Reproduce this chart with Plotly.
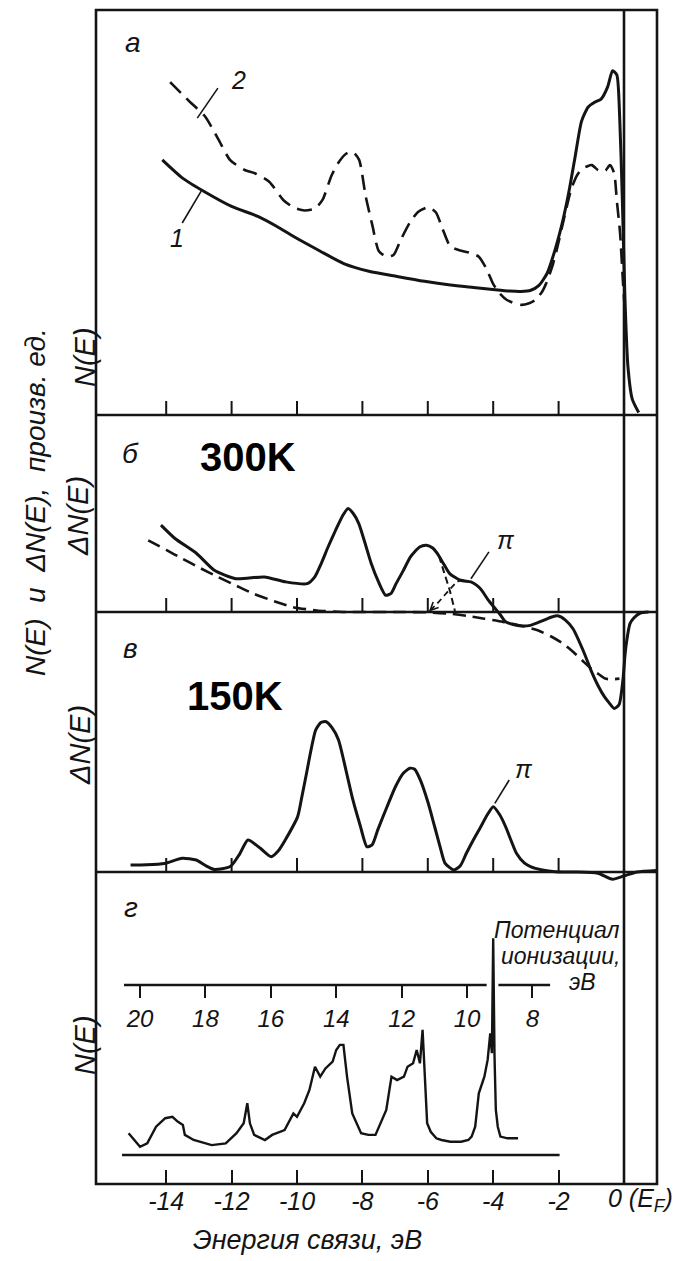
import math
import plotly.graph_objects as go

# ---------------- data (binding energy in eV, intensities in arbitrary units) ----------------
# panel а: curve 1 (solid) and curve 2 (dashed)
a1_E = [-14.12, -13.5, -12.8, -12.0, -11.18, -10.6, -10.09, -9.3, -8.57, -7.8, -6.94, -6.1,
        -5.31, -4.6, -4.01, -3.5, -3.15, -2.85, -2.6, -2.35, -2.1, -1.9, -1.7, -1.5, -1.3,
        -1.1, -0.9, -0.7, -0.5, -0.35, -0.22, -0.13, -0.05, 0.03, 0.12, 0.25, 0.45]
a1_N = [6.30, 5.85, 5.50, 5.15, 4.90, 4.65, 4.40, 4.05, 3.74, 3.55, 3.42, 3.30,
        3.21, 3.15, 3.10, 3.06, 3.05, 3.08, 3.20, 3.50, 4.10, 4.70, 5.45, 6.35, 7.25,
        7.60, 7.72, 7.80, 8.10, 8.50, 8.40, 7.30, 5.30, 2.85, 1.20, 0.40, 0.06]

a2_E = [-13.88, -13.3, -12.81, -12.4, -12.05, -11.6, -11.29, -10.85, -10.42, -10.1, -9.77,
        -9.45, -9.22, -8.95, -8.75, -8.5, -8.3, -8.1, -7.9, -7.7, -7.5, -7.27, -7.05, -6.83,
        -6.55, -6.29, -5.97, -5.75, -5.55, -5.31, -5.0, -4.7, -4.44, -4.2, -4.01, -3.8, -3.58,
        -3.35, -3.14, -2.9, -2.71, -2.5, -2.38, -2.2, -2.06, -1.85, -1.62, -1.45, -1.3, -1.1,
        -0.98, -0.8, -0.67, -0.55, -0.43, -0.3, -0.22, -0.12, -0.03, 0.05]
a2_N = [8.22, 7.75, 7.37, 6.80, 6.30, 6.05, 5.97, 5.76, 5.31, 5.12, 5.05,
        5.10, 5.31, 5.90, 6.21, 6.45, 6.50, 6.30, 5.40, 4.70, 4.05, 3.91, 3.95, 4.32,
        4.75, 5.02, 5.13, 5.00, 4.60, 4.16, 4.06, 4.00, 3.91, 3.60, 3.25, 3.00, 2.84,
        2.76, 2.72, 2.76, 2.84, 3.05, 3.25, 3.65, 4.07, 4.80, 5.56, 5.90, 6.07, 6.15,
        6.17, 6.05, 6.00, 6.05, 6.17, 5.97, 5.30, 4.49, 3.26, 2.30]

# panel б: difference spectrum at 300 K (solid) and its background (dashed)
b_E = [-14.16, -13.73, -13.07, -12.53, -11.87, -11.0, -10.35, -9.69, -9.45, -9.26, -9.05,
       -8.82, -8.6, -8.44, -8.28, -8.11, -7.92, -7.73, -7.5, -7.29, -7.12, -6.97, -6.75,
       -6.53, -6.25, -6.04, -5.85, -5.71, -5.5, -5.33, -5.0, -4.68, -4.5, -4.35, -4.15,
       -3.95, -3.8, -3.62, -3.2, -2.86, -2.5, -2.21, -2.0, -1.8, -1.56, -1.23, -1.0, -0.8,
       -0.6, -0.46, -0.3, -0.15, -0.03, 0.03, 0.08, 0.18, 0.3, 0.5, 0.75]
b_dN = [4.41, 3.73, 2.97, 2.12, 1.69, 1.78, 1.53, 1.44, 1.80, 2.46, 3.30,
        4.15, 4.90, 5.25, 5.00, 4.49, 3.50, 2.46, 1.50, 0.85, 0.95, 1.44, 2.10,
        2.80, 3.30, 3.39, 3.25, 2.97, 2.40, 1.95, 1.61, 1.53, 1.35, 1.10, 0.60,
        0.20, -0.10, -0.50, -0.70, -0.68, -0.45, -0.25, -0.20, -0.40, -0.85, -2.03, -3.00, -3.72,
        -4.30, -4.60, -4.90, -4.70, -3.40, -2.20, -1.50, -0.60, -0.30, -0.05, 0.0]

b_bg_E = [-14.55, -14.0, -13.51, -12.95, -12.42, -11.85, -11.33, -10.7, -10.13, -9.4, -8.6,
          -7.8, -6.97, -5.98, -5.36, -4.8, -4.27, -3.7, -3.18, -2.64, -2.2, -1.85, -1.55,
          -1.25, -1.0, -0.78, -0.58, -0.35, -0.14]
b_bg_dN = [3.64, 3.15, 2.71, 2.22, 1.78, 1.33, 0.93, 0.55, 0.25, 0.08, 0.0,
           0.0, 0.0, -0.02, -0.08, -0.20, -0.34, -0.50, -0.68, -0.93, -1.27, -1.62, -2.03,
           -2.50, -2.88, -3.15, -3.38, -3.42, -3.38]

# decomposition of the shoulder: flank of the -6 eV band and the π band
b_flank_E = [-5.66, -5.5, -5.33, -5.17]
b_flank_dN = [2.85, 2.00, 1.10, 0.05]
b_pi_E = [-5.93, -5.7, -5.49, -5.3, -5.11, -4.95]
b_pi_dN = [0.08, 0.45, 0.85, 1.20, 1.53, 1.62]

# panel в: difference spectrum at 150 K
c_E = [-15.09, -14.6, -14.05, -13.51, -13.08, -12.8, -12.53, -12.04, -11.75, -11.5, -11.12,
       -10.79, -10.55, -10.36, -9.98, -9.85, -9.71, -9.57, -9.43, -9.27, -9.11, -8.93, -8.73,
       -8.5, -8.29, -8.07, -7.86, -7.7, -7.53, -7.25, -6.99, -6.75, -6.55, -6.4, -6.23, -6.0,
       -5.79, -5.62, -5.47, -5.2, -5.0, -4.82, -4.6, -4.38, -4.18, -4.0, -3.8, -3.62, -3.45,
       -3.29, -3.05, -2.86, -2.5, -2.1, -1.5, -0.8, -0.35, 0.0, 0.4, 1.0]
c_dN = [0.27, 0.28, 0.33, 0.53, 0.46, 0.25, 0.10, 0.21, 0.70, 1.23, 0.91,
        0.59, 0.85, 1.23, 2.13, 2.90, 3.79, 4.70, 5.46, 5.75, 5.78, 5.55, 5.08,
        3.90, 2.77, 1.80, 0.97, 1.05, 1.62, 2.50, 3.28, 3.80, 3.99, 3.95, 3.54, 2.70,
        1.74, 0.95, 0.33, 0.08, 0.25, 0.72, 1.25, 1.74, 2.20, 2.51, 2.20, 1.74, 1.20,
        0.72, 0.35, 0.21, 0.08, 0.01, 0.0, -0.05, -0.28, -0.15, 0.0, 0.06]

# panel г: gas-phase spectrum against ionization potential (eV)
g_I = [20.35, 20.0, 19.78, 19.51, 19.23, 19.01, 18.85, 18.69, 18.63, 18.36, 17.81, 17.38,
       17.05, 16.83, 16.72, 16.64, 16.51, 16.18, 15.96, 15.58, 15.31, 15.2, 14.98, 14.82,
       14.65, 14.49, 14.33, 14.11, 14.0, 13.89, 13.78, 13.67, 13.51, 13.24, 13.02, 12.8,
       12.47, 12.31, 12.14, 11.93, 11.82, 11.65, 11.54, 11.44, 11.36, 11.29, 11.22, 11.11,
       10.94, 10.78, 10.51, 10.18, 9.96, 9.86, 9.75, 9.64, 9.47, 9.37, 9.29, 9.24, 9.20,
       9.16, 9.12, 9.06, 8.98, 8.76, 8.44]
g_N = [0.77, 0.29, 0.41, 1.00, 1.30, 1.35, 1.18, 1.06, 0.71, 0.53, 0.35, 0.41,
       0.77, 1.12, 1.83, 1.12, 0.71, 0.53, 0.71, 0.88, 1.47, 1.35, 1.83, 2.30,
       3.12, 2.77, 3.06, 3.30, 3.71, 3.89, 3.89, 2.77, 1.47, 0.77, 0.71, 0.71,
       1.59, 2.77, 2.65, 2.77, 3.12, 3.24, 3.71, 3.24, 4.42, 2.89, 1.12, 0.82,
       0.59, 0.53, 0.47, 0.47, 0.53, 0.65, 1.00, 2.18, 2.77, 3.36, 4.30, 3.60, 7.66,
       3.50, 1.60, 1.00, 0.65, 0.59, 0.59]

energy_ticks = [-14, -12, -10, -8, -6, -4, -2]
energy_ticktext = ["-14", "-12", "-10", "-8", "-6", "-4", "-2"]
ion_ticks = [20, 18, 16, 14, 12, 10, 8]
ion_ticktext = ["20", "18", "16", "14", "12", "10", "8"]
ION_SHIFT = 5.2          # binding energy = ION_SHIFT - ionization potential

# ---------------- geometry ----------------
W, H = 694, 1261
L, R, T, B = 96, 657, 10, 1184          # plotting box in pixels
E0_PX, PX_PER_EV = 624, 32.7
PANEL_EDGES = [10, 415, 612, 872, 1184]  # pixel rows of the panel borders
B_UNIT = 19.7                            # pixels per unit of the б scale


def py(p):
    return (B - p) / (B - T)


def pxp(p):
    return (p - L) / (R - L)


x_range = [(L - E0_PX) / PX_PER_EV, (R - E0_PX) / PX_PER_EV]
ion_range = [ION_SHIFT - x_range[0], ION_SHIFT - x_range[1]]

INK = "#141414"
FONT = "Liberation Sans"


def ifont(size, **kw):
    return dict(family=FONT, size=size, color=INK, style="italic", **kw)


fig = go.Figure()

solid = dict(color=INK, width=3.0)
fig.add_trace(go.Scatter(x=a1_E, y=a1_N, mode="lines", xaxis="x", yaxis="y",
                         line=dict(**solid, shape="spline", smoothing=0.6)))
fig.add_trace(go.Scatter(x=a2_E, y=a2_N, mode="lines", xaxis="x", yaxis="y",
                         line=dict(color=INK, width=2.6, dash="15px,8px", shape="spline", smoothing=0.6)))

fig.add_trace(go.Scatter(x=b_E, y=b_dN, mode="lines", xaxis="x", yaxis="y2",
                         line=dict(**solid, shape="spline", smoothing=0.6)))
fig.add_trace(go.Scatter(x=b_bg_E, y=b_bg_dN, mode="lines", xaxis="x", yaxis="y2",
                         line=dict(color=INK, width=2.6, dash="13px,7px", shape="spline", smoothing=0.6)))
fig.add_trace(go.Scatter(x=b_flank_E, y=b_flank_dN, mode="lines", xaxis="x", yaxis="y2",
                         line=dict(color=INK, width=2.0, dash="7px,4px", shape="spline", smoothing=0.6)))
fig.add_trace(go.Scatter(x=b_pi_E, y=b_pi_dN, mode="lines", xaxis="x", yaxis="y2",
                         line=dict(color=INK, width=1.8, dash="6px,4px", shape="spline", smoothing=0.6)))

fig.add_trace(go.Scatter(x=c_E, y=c_dN, mode="lines", xaxis="x", yaxis="y3",
                         line=dict(**solid, shape="spline", smoothing=0.6)))

fig.add_trace(go.Scatter(x=g_I, y=g_N, mode="lines", xaxis="x2", yaxis="y4",
                         line=dict(color=INK, width=2.4)))

# ---------------- frame, separators, ticks ----------------
shapes = [dict(type="rect", xref="paper", yref="paper", x0=0, x1=1, y0=0, y1=1,
               line=dict(color=INK, width=2.6))]
for edge in PANEL_EDGES[1:-1]:
    shapes.append(dict(type="line", xref="paper", yref="paper", x0=0, x1=1,
                       y0=py(edge), y1=py(edge), line=dict(color=INK, width=2.6)))
shapes.append(dict(type="line", xref="x", yref="paper", x0=0, x1=0, y0=0, y1=1,
                   line=dict(color=INK, width=2.6)))
for edge in PANEL_EDGES[1:-1]:
    for t in energy_ticks:
        shapes.append(dict(type="line", xref="x", yref="paper", x0=t, x1=t,
                           y0=py(edge), y1=py(edge - 14), line=dict(color=INK, width=2)))

# baseline of the gas-phase spectrum
shapes.append(dict(type="line", xref="x", yref="y4", x0=-15.35, x1=-1.97, y0=0, y1=0,
                   line=dict(color=INK, width=2.6)))
# ionization-potential scale line, interrupted where the first band crosses it
for x0, x1 in [(20.49, 9.40), (9.04, 7.46)]:
    shapes.append(dict(type="line", xref="x2", yref="paper", x0=x0, x1=x1,
                       y0=py(985), y1=py(985), line=dict(color=INK, width=2.4)))

# leader lines for curve labels
leaders = [("y", -13.05, 7.33, -12.42, 8.07),
           ("y", -13.51, 4.74, -12.93, 5.53),
           ("y2", -4.68, 1.69, -4.13, 3.05),
           ("y3", -3.95, 2.64, -3.51, 3.54)]
for yr, x0, y0, x1, y1 in leaders:
    shapes.append(dict(type="line", xref="x", yref=yr, x0=x0, y0=y0, x1=x1, y1=y1,
                       line=dict(color=INK, width=1.6)))

# arrowhead at the foot of the π band (wings built in pixel space, mapped back to data)
tip_E, tip_v = b_pi_E[0], b_pi_dN[0]
dx_px = (b_pi_E[1] - tip_E) * PX_PER_EV
dy_px = (b_pi_dN[1] - tip_v) * B_UNIT
ang = math.atan2(dy_px, dx_px)
wing = []
for da in (-0.45, 0.45):
    wing.append((tip_E + 9 * math.cos(ang + da) / PX_PER_EV,
                 tip_v + 9 * math.sin(ang + da) / B_UNIT))
shapes.append(dict(type="path", xref="x", yref="y2",
                   path=f"M {wing[0][0]},{wing[0][1]} L {tip_E},{tip_v} L {wing[1][0]},{wing[1][1]}",
                   line=dict(color=INK, width=1.6)))

# ---------------- text ----------------
ann = []


def text_px(txt, x, y, font, xanchor="center", **kw):
    ann.append(dict(text=txt, xref="paper", yref="paper", x=pxp(x), y=py(y),
                    xanchor=xanchor, yanchor="middle", showarrow=False, font=font, **kw))


for letter, (x, y) in zip(["а", "б", "в", "г"], [(133, 42), (130, 453), (130, 648), (131, 907)]):
    text_px(letter, x, y, ifont(28))

bold = dict(family=FONT, size=40, color="#000000", weight="bold")
text_px("300K", 248, 457, bold)
text_px("150K", 235, 696, bold)

text_px("N(E)  и  ΔN(E),  произв. ед.", 35, 502, ifont(28), textangle=-90)
text_px("N(E)", 85, 357, ifont(29), textangle=-90)
text_px("ΔN(E)", 78, 516, ifont(29), textangle=-90)
text_px("ΔN(E)", 80, 745, ifont(29), textangle=-90)
text_px("N(E)", 85, 1045, ifont(29), textangle=-90)

text_px("0 (E<sub>F</sub>)", 606, 1200, ifont(25), xanchor="left")
text_px("Энергия связи, эВ", 307, 1240, ifont(27))

text_px("Потенциал", 622, 930, ifont(23), xanchor="right")
text_px("ионизации,", 622, 956, ifont(23), xanchor="right")
text_px("эВ", 582, 982, ifont(23))

for txt, yr, x, y in [("2", "y", -11.79, 8.27), ("1", "y", -13.66, 4.37),
                      ("π", "y2", -3.62, 3.64), ("π", "y3", -3.05, 3.96)]:
    ann.append(dict(text=txt, xref="x", yref=yr, x=x, y=y, xanchor="center", yanchor="middle",
                    showarrow=False, font=ifont(25)))

# ---------------- axes ----------------
hidden_y = dict(visible=False, fixedrange=True)
fig.update_layout(
    width=W, height=H,
    margin=dict(l=L, r=W - R, t=T, b=H - B, pad=0),
    paper_bgcolor="white", plot_bgcolor="rgba(0,0,0,0)",
    showlegend=False,
    xaxis=dict(domain=[0, 1], range=x_range, anchor="free", position=0,
               ticks="inside", ticklen=14, tickwidth=2, tickcolor=INK,
               tickvals=energy_ticks, ticktext=energy_ticktext, tickfont=ifont(25),
               showline=False, showgrid=False, zeroline=False),
    xaxis2=dict(domain=[0, 1], range=ion_range, anchor="free", position=py(985),
                side="bottom", ticks="outside", ticklen=12, tickwidth=2, tickcolor=INK,
                tickvals=ion_ticks, ticktext=ion_ticktext, tickfont=ifont(24),
                showline=False, showgrid=False, zeroline=False),
    yaxis=dict(domain=[py(415), py(10)], range=[0, 10], **hidden_y),
    yaxis2=dict(domain=[py(740), py(415)], range=[-(740 - 612) / B_UNIT, 10], **hidden_y),
    yaxis3=dict(domain=[py(885), py(612)], range=[-(885 - 872) / 26.0, 10], **hidden_y),
    yaxis4=dict(domain=[0, py(872)], range=[-(1184 - 1155) / 28.3, (1155 - 872) / 28.3], **hidden_y),
    shapes=shapes,
    annotations=ann,
)

fig.write_html("out.html")
